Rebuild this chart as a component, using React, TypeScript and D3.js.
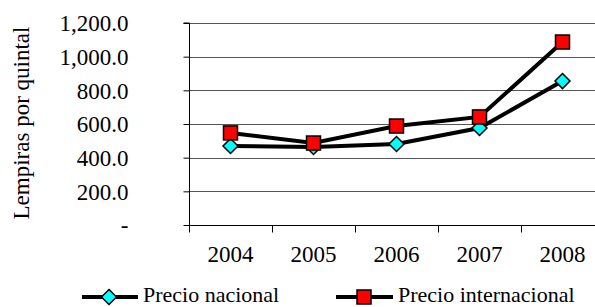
import React, { useRef, useEffect } from 'react';
import * as d3 from 'd3';

const years = ['2004', '2005', '2006', '2007', '2008'];
const precioNacional = [469, 463, 481, 576, 855];
const precioInternacional = [547, 487, 588, 642, 1087];
const yTicks = [0, 200, 400, 600, 800, 1000, 1200];

const App = () => {
  const svgRef = useRef<SVGSVGElement>(null);

  useEffect(() => {
    const svg = d3.select(svgRef.current);
    const width = 595;
    const height = 307;
    const left = 189, right = 604, top = 23, bottom = 225;
    const font = "'Liberation Serif', 'DejaVu Serif', serif";

    svg.selectAll('*').remove();
    svg.style('font-family', font);

    const x = d3.scaleBand().domain(years).range([left, right]);
    const y = d3.scaleLinear().domain([0, 1200]).range([bottom, top]);
    const cx = (d: string) => (x(d) as number) + x.bandwidth() / 2;

    // gridlines
    svg.append('g')
      .selectAll('line')
      .data(yTicks.filter(d => d > 0))
      .join('line')
      .attr('x1', left).attr('x2', right)
      .attr('y1', d => Math.round(y(d)) + 0.5).attr('y2', d => Math.round(y(d)) + 0.5)
      .attr('stroke', '#555').attr('stroke-width', 1);

    // y axis
    const yAxis = svg.append('g')
      .attr('transform', `translate(${left + 0.5},0)`)
      .call(d3.axisLeft(y).tickValues(yTicks).tickSize(6).tickPadding(55)
        .tickFormat(d => (+d === 0 ? '-' : d3.format(',.1f')(+d))));
    yAxis.attr('font-family', null).attr('font-size', null);
    yAxis.select('.domain').attr('stroke', '#000').attr('d', `M-6,${top}H0V${bottom}`);
    yAxis.selectAll('.tick line').attr('stroke', '#000');
    yAxis.selectAll('.tick text')
      .style('font-family', font).style('font-size', '23px').attr('fill', '#000')
      .attr('text-anchor', 'end').attr('x', 128 - left).attr('dy', '0.34em');

    // x axis
    const xAxis = svg.append('g').attr('transform', `translate(0,${bottom + 0.5})`);
    xAxis.append('line')
      .attr('x1', left).attr('x2', right).attr('stroke', '#000');
    xAxis.selectAll('line.tick')
      .data([...years.map(d => x(d) as number), right])
      .join('line')
      .attr('class', 'tick')
      .attr('x1', d => Math.round(d) + 0.5).attr('x2', d => Math.round(d) + 0.5)
      .attr('y1', 0).attr('y2', 7).attr('stroke', '#000');
    xAxis.selectAll('text')
      .data(years)
      .join('text')
      .attr('x', d => cx(d)).attr('y', 36)
      .attr('text-anchor', 'middle')
      .style('font-family', font).style('font-size', '23px')
      .text(d => d);

    // y title
    svg.append('text')
      .attr('transform', `translate(29,123) rotate(-90)`)
      .attr('text-anchor', 'middle')
      .style('font-family', font).style('font-size', '23px')
      .text('Lempiras por quintal');

    const line = d3.line<number>()
      .x((d, i) => cx(years[i]))
      .y(d => y(d));

    const diamond = (g: any, px: number, py: number) =>
      g.append('path')
        .attr('d', `M${px},${py - 7.5}L${px + 7.5},${py}L${px},${py + 7.5}L${px - 7.5},${py}Z`)
        .attr('fill', '#00FFFF').attr('stroke', '#000').attr('stroke-width', 1.5);
    const square = (g: any, px: number, py: number) =>
      g.append('rect')
        .attr('x', px - 7).attr('y', py - 7).attr('width', 14).attr('height', 14)
        .attr('fill', '#FF0000').attr('stroke', '#000').attr('stroke-width', 1.5);

    const series = svg.append('g');
    series.append('path').datum(precioNacional)
      .attr('fill', 'none').attr('stroke', '#000').attr('stroke-width', 4)
      .attr('d', line);
    series.append('path').datum(precioInternacional)
      .attr('fill', 'none').attr('stroke', '#000').attr('stroke-width', 4)
      .attr('d', line);
    precioNacional.forEach((v, i) => diamond(series, cx(years[i]), y(v)));
    precioInternacional.forEach((v, i) => square(series, cx(years[i]), y(v)));

    // legend
    const leg = svg.append('g');
    const ly = 297;
    leg.append('line').attr('x1', 82).attr('x2', 138).attr('y1', ly).attr('y2', ly)
      .attr('stroke', '#000').attr('stroke-width', 4);
    diamond(leg, 109, ly);
    leg.append('text').attr('x', 143).attr('y', ly + 5)
      .style('font-family', font).style('font-size', '22px').text('Precio nacional');
    leg.append('line').attr('x1', 336).attr('x2', 393).attr('y1', ly).attr('y2', ly)
      .attr('stroke', '#000').attr('stroke-width', 4);
    square(leg, 364, ly);
    leg.append('text').attr('x', 398).attr('y', ly + 5)
      .style('font-family', font).style('font-size', '22px').text('Precio internacional');

    svg.attr('width', width).attr('height', height);
  }, []);

  return (
    <svg ref={svgRef} width={595} height={307}
      style={{ position: 'absolute', left: 0, top: 0, background: '#fff' }} />
  );
};

export default App;
